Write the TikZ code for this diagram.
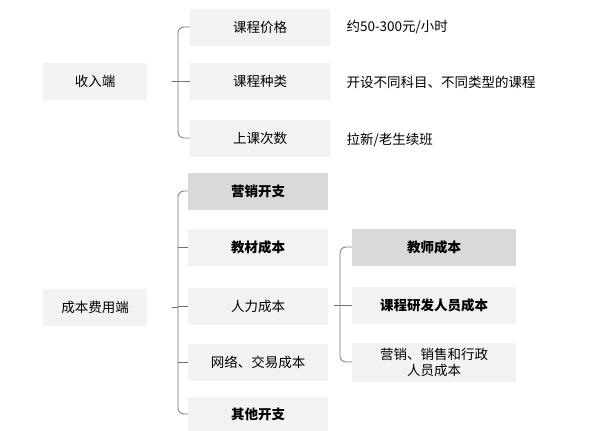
\documentclass[tikz,border=0pt]{standalone}
\usepackage{fontspec}
\setmainfont{Noto Sans CJK SC}
\usetikzlibrary{positioning}
\definecolor{lightbox}{HTML}{F2F2F2}
\definecolor{darkbox}{HTML}{D9D9D9}
\tikzset{
  itembox/.style={fill=lightbox, minimum width=140pt, minimum height=37pt, inner sep=0pt, align=center, font=\fontsize{13.5}{16}\selectfont},
  keybox/.style={itembox, fill=darkbox, font=\fontsize{13.5}{16}\selectfont\bfseries},
  boldbox/.style={itembox, font=\fontsize{13.5}{16}\selectfont\bfseries},
  sidetext/.style={anchor=west, font=\fontsize{13.5}{16}\selectfont},
  bracket/.style={draw=gray!90!black, line width=0.8pt, rounded corners=6pt}
}
\begin{document}
\begin{tikzpicture}[x=1pt, y=-1pt]
    \useasboundingbox (0,0) rectangle (600,431);
    % income side
    \node[itembox, minimum width=104pt] (income) at (95,81) {收入端};
    \node[itembox] (price) at (260,27) {课程价格};
    \node[itembox] (kind) at (260,81) {课程种类};
    \node[itembox] (times) at (260,138) {上课次数};
    \node[sidetext] (priceNote) at (343,27) {约50-300元/小时};
    \node[sidetext] (kindNote) at (343,82) {开设不同科目、不同类型的课程};
    \node[sidetext] (timesNote) at (343,140) {拉新/老生续班};
    \draw[bracket] (price.west) -| (178,81) |- (times.west);
    \draw[bracket, rounded corners=0pt] (172,81) -- (kind.west);
    % cost side
    \node[itembox, minimum width=104pt] (cost) at (95,307) {成本费用端};
    \node[keybox] (market) at (258,191) {营销开支};
    \node[boldbox] (material) at (258,247) {教材成本};
    \node[itembox] (labor) at (258,306) {人力成本};
    \node[itembox] (network) at (258,362) {网络、交易成本};
    \node[boldbox, minimum height=34pt] (other) at (258,414) {其他开支};
    \draw[bracket] (market.west) -| (178,307) |- (other.west);
    \draw[bracket, rounded corners=0pt] (172,307) -- (178,307);
    \foreach \n in {material, labor, network}
      \draw[bracket, rounded corners=0pt] (178,0 |- \n.west) -- (\n.west);
    % labor detail
    \node[keybox, minimum width=164pt] (teacher) at (434,247) {教师成本};
    \node[boldbox, minimum width=164pt] (research) at (434,305) {课程研发人员成本};
    \node[itembox, minimum width=164pt, minimum height=39pt] (admin) at (434,362) {营销、销售和行政\\人员成本};
    \draw[bracket] (teacher.west) -| (340,305) |- (admin.west);
    \draw[bracket, rounded corners=0pt] (334,305) -- (research.west);
\end{tikzpicture}
\end{document}
